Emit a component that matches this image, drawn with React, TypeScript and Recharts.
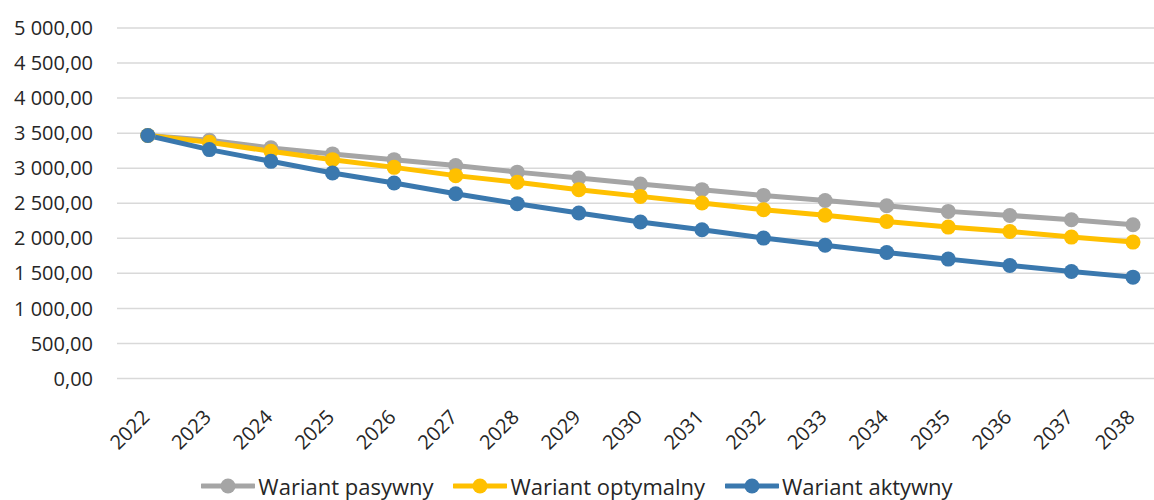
import { LineChart, Line, XAxis, YAxis, CartesianGrid, Legend } from "recharts";

const years = [
  "2022", "2023", "2024", "2025", "2026", "2027", "2028", "2029", "2030",
  "2031", "2032", "2033", "2034", "2035", "2036", "2037", "2038"
];
const pasywny = [
  3466, 3398, 3290, 3204, 3122, 3037, 2944, 2861, 2775,
  2694, 2612, 2539, 2465, 2384, 2326, 2265, 2194
];
const optymalny = [
  3466, 3370, 3241, 3122, 3012, 2894, 2800, 2694, 2598,
  2503, 2408, 2330, 2241, 2160, 2098, 2017, 1946
];
const aktywny = [
  3466, 3265, 3098, 2932, 2789, 2636, 2494, 2360, 2232,
  2122, 2003, 1900, 1798, 1703, 1612, 1527, 1446
];
const yTicks = [0, 500, 1000, 1500, 2000, 2500, 3000, 3500, 4000, 4500, 5000];

const series = [
  { key: "pasywny", name: "Wariant pasywny", color: "#A5A5A5" },
  { key: "optymalny", name: "Wariant optymalny", color: "#FFC000" },
  { key: "aktywny", name: "Wariant aktywny", color: "#3A78AE" }
];

const data = years.map((year, i) => ({
  year,
  pasywny: pasywny[i],
  optymalny: optymalny[i],
  aktywny: aktywny[i]
}));

const FONT = "'Open Sans', sans-serif";
const TEXT = "#262626";

// 5000 -> "5 000,00"
function plNumber(v: number) {
  const [int, dec] = v.toFixed(2).split(".");
  return int.replace(/\B(?=(\d{3})+(?!\d))/g, " ") + "," + dec;
}

function YearTick({ x, y, payload }: any) {
  const tx = x + 3;
  const ty = y + 32;
  return (
    <text
      x={tx}
      y={ty}
      transform={`rotate(-45, ${tx}, ${ty})`}
      textAnchor="end"
      fill={TEXT}
      fontSize={20}
      fontFamily={FONT}
    >
      {payload.value}
    </text>
  );
}

function LegendContent() {
  return (
    <div
      style={{
        height: 40,
        boxSizing: "border-box",
        paddingBottom: 3,
        display: "flex",
        justifyContent: "center",
        alignItems: "flex-end",
        fontFamily: FONT,
        fontSize: 22,
        color: TEXT,
        lineHeight: "22px"
      }}
    >
      {series.map((s) => (
        <div key={s.key} style={{ display: "flex", alignItems: "center", margin: "0 10px" }}>
          <svg width={54} height={20} style={{ marginRight: 3 }}>
            <line x1={1} y1={10} x2={53} y2={10} stroke={s.color} strokeWidth={5} strokeLinecap="round" />
            <circle cx={27} cy={10} r={7.5} fill={s.color} />
          </svg>
          <span>{s.name}</span>
        </div>
      ))}
    </div>
  );
}

export default function App() {
  return (
    <div style={{ position: "absolute", left: 0, top: 0, background: "#fff" }}>
      <LineChart
        width={1154}
        height={500}
        data={data}
        margin={{ top: 28, right: 0, left: 0, bottom: 0 }}
      >
        <CartesianGrid vertical={false} stroke="#D9D9D9" strokeWidth={1.5} />
        <XAxis
          dataKey="year"
          axisLine={false}
          tickLine={false}
          interval={0}
          height={81.5}
          padding={{ left: 30.8, right: 21 }}
          tick={<YearTick />}
        />
        <YAxis
          width={117}
          domain={[0, 5000]}
          ticks={yTicks}
          axisLine={false}
          tickLine={false}
          tickSize={0}
          tickMargin={24}
          tickFormatter={plNumber}
          tick={{ fill: TEXT, fontSize: 20, fontFamily: FONT }}
        />
        <Legend verticalAlign="bottom" content={<LegendContent />} />
        {series.map((s) => (
          <Line
            key={s.key}
            dataKey={s.key}
            name={s.name}
            stroke={s.color}
            strokeWidth={5}
            dot={{ r: 7.5, fill: s.color, stroke: s.color, strokeWidth: 0 }}
            activeDot={false}
            isAnimationActive={false}
          />
        ))}
      </LineChart>
    </div>
  );
}
